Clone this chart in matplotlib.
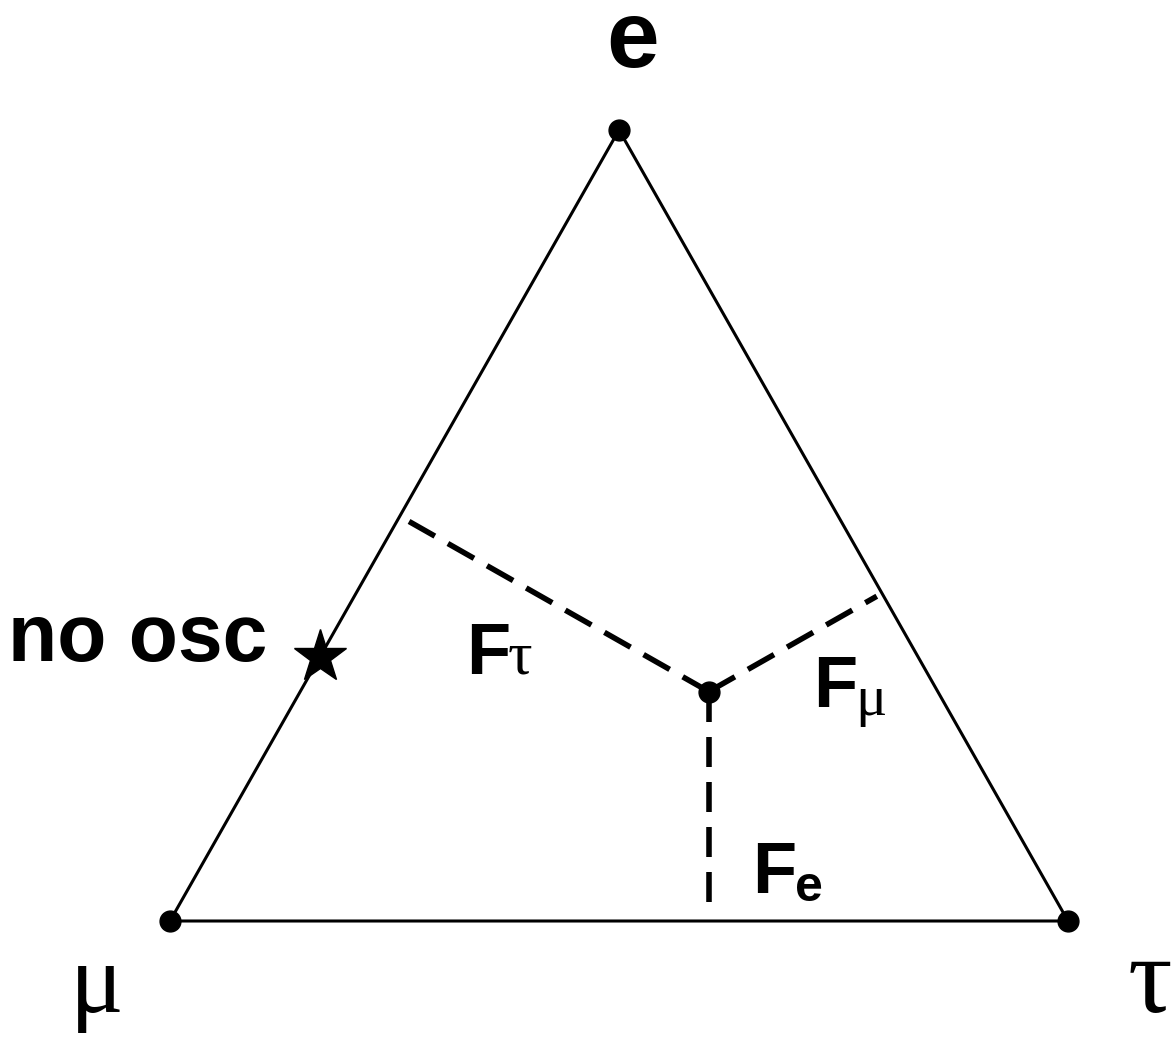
"""
Flavor triangle: e / mu / tau fractions with the no-oscillation point
"""

import numpy as np
import matplotlib
matplotlib.use('Agg')
import matplotlib.pyplot as plt

# flavor fractions (F_e, F_mu, F_tau)
vertex_names = ['e', 'μ', 'τ']
measured = [0.29, 0.255, 0.455]
no_osc = [1 / 3, 2 / 3, 0.0]

W, H = 1176, 1040
fig = plt.figure(figsize=(W / 100, H / 100), dpi=100)
ax = fig.add_axes([0, 0, 1, 1])
ax.axis('off')

# ternary -> cartesian: mu at (0,0), tau at (1,0), e at (0.5,1)
# axis limits chosen so the triangle lands where it sits in the picture
ax.set_xlim(-170 / 898, 1006 / 898)
ax.set_ylim((921 - 1040) / 791, 921 / 791)


def to_xy(f):
    fe, fmu, ftau = f
    return np.array([ftau + 0.5 * fe, fe])


def px(x, y):
    """pixel (from top-left) -> figure fraction, for the labels"""
    return x / W, 1 - y / H


# pixel scaling, used to get true right angles for the dashed lines
sx, sy = 898.0, 791.0


def foot(p, a, b):
    P = p * [sx, sy]
    A = a * [sx, sy]
    B = b * [sx, sy]
    d = B - A
    t = np.dot(P - A, d) / np.dot(d, d)
    F = A + t * d
    return F / [sx, sy]


E = to_xy([1, 0, 0])
MU = to_xy([0, 1, 0])
TAU = to_xy([0, 0, 1])
tri = np.array([MU, TAU, E, MU])
ax.plot(tri[:, 0], tri[:, 1], color='black', lw=2.2, zorder=2)

# vertex dots
for v in (E, MU, TAU):
    ax.plot(v[0], v[1], 'o', color='black', ms=15, zorder=4)

# measured point and perpendiculars to the three sides
P = to_xy(measured)
for a, b in ((MU, TAU), (MU, E), (E, TAU)):
    f = foot(P, a, b)
    end = P + (f - P) * 0.97
    ax.plot([P[0], end[0]], [P[1], end[1]], color='black', lw=4,
            dashes=(5.4, 2.7), solid_capstyle='butt', dash_capstyle='butt', zorder=3)
ax.plot(P[0], P[1], 'o', color='black', ms=15, zorder=5)

# no oscillation star
S = to_xy(no_osc)
ax.plot(S[0], S[1], marker='*', color='black', ms=40, mec='black', zorder=5)

bold = dict(family='Liberation Sans', weight='bold', color='black')
greek = dict(family='Liberation Serif', color='black')

fig.text(*px(633, 67), 'e', fontsize=68, ha='center', va='baseline', **bold)
fig.text(*px(8, 640), 'no osc', fontsize=58, ha='left', va='center', **bold)
fig.text(*px(97, 1012), 'μ', fontsize=72, ha='center', va='baseline', **greek)
fig.text(*px(1150, 1012), 'τ', fontsize=80, ha='center', va='baseline', **greek)

# F labels with subscripts
fig.text(*px(466, 674), 'F', fontsize=52, ha='left', va='baseline', **bold)
fig.text(*px(508, 674), 'τ', fontsize=44, ha='left', va='baseline', **greek)
fig.text(*px(813, 707), 'F', fontsize=52, ha='left', va='baseline', **bold)
fig.text(*px(855, 715), 'μ', fontsize=42, ha='left', va='baseline', **greek)
fig.text(*px(752, 893), 'F', fontsize=52, ha='left', va='baseline', **bold)
fig.text(*px(795, 901), 'e', fontsize=36, ha='left', va='baseline', **bold)

fig.savefig('out.png', dpi=100)
